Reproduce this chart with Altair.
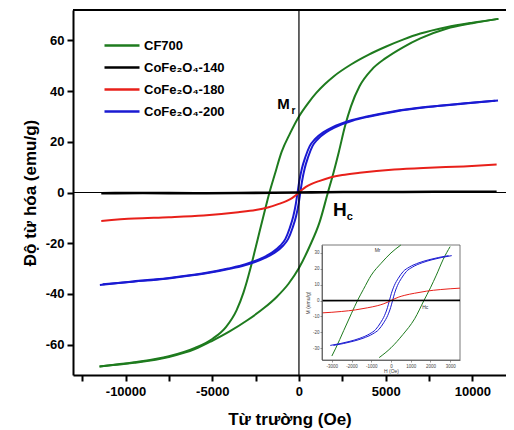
import altair as alt
import pandas as pd

# ---------------- data ----------------
SAMPLES = ["CF700", "CoFe₂O₄-140", "CoFe₂O₄-180", "CoFe₂O₄-200"]
COLORS = ["#1e7b1e", "#000000", "#e8201a", "#1a1ad2"]

# CF700 descending-field branch
CF_UP_H = [11500, 10000, 8500, 7000, 6000, 5000, 4000, 3000, 2000, 1500, 1000, 500, 0,
           -500, -1000, -1400, -1700, -2000, -2400, -2800, -3000, -3200, -3600, -4200,
           -5000, -6000, -7500, -9500, -11500]
CF_UP_M = [68.5, 67, 65.2, 62.7, 60.3, 57.5, 54.3, 50.5, 45.8, 42.8, 39.3, 35, 30,
           23.5, 16, 7, 0, -8, -19, -30, -35, -39.5, -46.5, -53,
           -57.8, -61.3, -64.6, -67, -68.6]
# CF700 ascending-field branch
CF_LO_H = [-11500, -9500, -7500, -6000, -5000, -4000, -3000, -2000, -1300, -600, 0, 600,
           1200, 1670, 2000, 2300, 2650, 3000, 3500, 4200, 5000, 6000, 7000, 8500, 10000, 11500]
CF_LO_M = [-68.6, -67.2, -64.9, -61.8, -58.5, -54.8, -50.5, -45.5, -41.3, -36, -29.8, -21.5,
           -11.5, 0, 8, 16, 26, 34, 42, 48.5, 53, 57.3, 60.8, 64.6, 66.8, 68.5]

# CoFe2O4-200 (narrow loop)
B_UP_H = [11320, 9420, 7420, 5420, 3920, 2920, 1920, 1420, 920, 620, 370, 170, 20, -80,
          -180, -330, -530, -780, -1080, -1580, -2080, -3080, -4080, -5580, -7580, -9580, -11480]
B_UP_M = [36.2, 35.1, 33.8, 32, 30, 28.3, 25.7, 23.8, 21, 18.3, 14, 9.5, 4.5, 0,
          -4.5, -9.5, -14, -18.3, -21, -23.8, -25.7, -28.3, -30, -32, -33.8, -35.1, -36.5]
B_LO_H = [-11320, -9420, -7420, -5420, -3920, -2920, -1920, -1420, -920, -620, -370, -170,
          -20, 80, 180, 330, 530, 780, 1080, 1580, 2080, 3080, 4080, 5580, 7580, 9580, 11480]
B_LO_M = [-36.2, -35.1, -33.8, -32, -30, -28.3, -25.7, -23.8, -21, -18.3, -14, -9.5,
          -4.5, 0, 4.5, 9.5, 14, 18.3, 21, 23.8, 25.7, 28.3, 30, 32, 33.8, 35.1, 36.3]

# CoFe2O4-180
R_H = [-11400, -9500, -7500, -5500, -3500, -2500, -1800, -1200, -700, -400, -200, 0,
       200, 400, 700, 1200, 1800, 2500, 3500, 5500, 7500, 9500, 11400]
R_M = [-11.2, -10.3, -9.8, -9.1, -7.8, -6.9, -5.9, -4.6, -3.3, -2.2, -1.2, 0,
       1.2, 2.2, 3.3, 4.6, 5.9, 6.9, 7.8, 9.1, 9.8, 10.3, 11]

# CoFe2O4-140
K_H = [-11400, -9000, -6000, -3500, -1500, 0, 1500, 3500, 6000, 9000, 11400]
K_M = [-0.3, -0.2, -0.3, -0.2, -0.1, 0, 0.1, 0.2, 0.2, 0.3, 0.3]

# annotations
ANN_TEXT = ["M", "r", "H", "c"]
ANN_H = [-890, -320, 2365, 2940]
ANN_M = [34.9, 32.2, -7, -9.5]
ANN_SIZE = [15, 10, 19, 11]

INSET_ANN_TEXT = ["Mr", "Hc"]
INSET_ANN_H = [-680, 1740]
INSET_ANN_M = [32, -4]

X_TICKS = [-12500, -10000, -7500, -5000, -2500, 0, 2500, 5000, 7500, 10000]
Y_TICKS = [-60, -40, -20, 0, 20, 40, 60]
INSET_X_TICKS = [-3000, -2000, -1000, 0, 1000, 2000, 3000]
INSET_Y_TICKS = [-30, -20, -10, 0, 10, 20, 30]
X_DOMAIN = [-13030, 11940]
Y_DOMAIN = [-72, 72]
INSET_X_DOMAIN = [-3500, 3500]
INSET_Y_DOMAIN = [-37.5, 35]


def series(sample, branch, hs, ms):
    return pd.DataFrame({"H": hs, "M": ms, "sample": sample, "key": sample + "|" + branch})


df = pd.concat([
    series(SAMPLES[0], "up", CF_UP_H, CF_UP_M),
    series(SAMPLES[0], "lo", CF_LO_H, CF_LO_M),
    series(SAMPLES[3], "up", B_UP_H, B_UP_M),
    series(SAMPLES[3], "lo", B_LO_H, B_LO_M),
    series(SAMPLES[2], "one", R_H, R_M),
    series(SAMPLES[1], "one", K_H, K_M),
], ignore_index=True)
df["w"] = [2.6 if s == SAMPLES[1] else 2.0 for s in df["sample"]]

ann = pd.DataFrame({"H": ANN_H, "M": ANN_M, "t": ANN_TEXT, "s": ANN_SIZE})
inset_ann = pd.DataFrame({"H": INSET_ANN_H, "M": INSET_ANN_M, "t": INSET_ANN_TEXT})
one = pd.DataFrame({"a": [0]})

W, HGT = 433, 365
FONT = "Liberation Sans"

x_main = alt.Scale(domain=X_DOMAIN, nice=False, zero=False)
y_main = alt.Scale(domain=Y_DOMAIN, nice=False, zero=False)

x_axis = alt.Axis(orient="bottom", values=X_TICKS,
                  labelExpr="datum.value % 5000 == 0 ? '' + datum.value : ''",
                  domainWidth=2, domainColor="black", tickWidth=2, tickColor="black",
                  tickSize=6, labelFontSize=13, labelFontWeight="bold", labelColor="black",
                  labelPadding=4, title="Từ trường (Oe)", titleFontSize=17,
                  titleFontWeight="bold", titleColor="black", titlePadding=13, grid=False)
y_axis = alt.Axis(orient="left", values=Y_TICKS, labelExpr="'' + datum.value",
                  domainWidth=2, domainColor="black", tickWidth=2, tickColor="black",
                  tickSize=6, labelFontSize=13, labelFontWeight="bold", labelColor="black",
                  labelPadding=3, title="Độ từ hóa (emu/g)", titleFontSize=17,
                  titleFontWeight="bold", titleColor="black", titlePadding=6, grid=False)

color_main = alt.Color("sample:N", scale=alt.Scale(domain=SAMPLES, range=COLORS),
                       legend=alt.Legend(orient="none", legendX=30, legendY=27, title=None,
                                         symbolType="stroke", symbolSize=1225,
                                         symbolStrokeWidth=2.5, labelFontSize=13,
                                         labelFontWeight="bold", labelColor="black",
                                         clipHeight=17, rowPadding=5, labelOffset=3,
                                         padding=0))

main_lines = alt.Chart(df).mark_line(interpolate="monotone").encode(
    x=alt.X("H:Q", scale=x_main, axis=x_axis),
    y=alt.Y("M:Q", scale=y_main, axis=y_axis),
    color=color_main,
    strokeWidth=alt.StrokeWidth("w:Q", scale=None, legend=None),
    detail="key:N",
)

rule_h = alt.Chart(one).mark_rule(color="black", strokeWidth=1.2).encode(
    y=alt.Y(datum=0, type="quantitative"))
rule_top = alt.Chart(one).mark_rule(color="black", strokeWidth=2).encode(
    y=alt.Y(datum=Y_DOMAIN[1], type="quantitative"))
rule_v = alt.Chart(one).mark_rule(color="black", strokeWidth=1.2).encode(
    x=alt.X(datum=0, type="quantitative"))

ann_text = alt.Chart(ann).mark_text(fontWeight="bold", color="black").encode(
    x="H:Q", y="M:Q", text="t:N", size=alt.Size("s:Q", scale=None))

main = alt.layer(main_lines, rule_h, rule_top, rule_v, ann_text)

# ---------------- inset ----------------
x_in = alt.Scale(domain=INSET_X_DOMAIN, range=[249, 387], nice=False, zero=False)
y_in = alt.Scale(domain=INSET_Y_DOMAIN, range=[350, 235], nice=False, zero=False)

x_in_axis = alt.Axis(orient="bottom", offset=-15, values=INSET_X_TICKS, labelExpr="'' + datum.value",
                     domainWidth=0.8, domainColor="#555", tickColor="#555", tickSize=2,
                     tickWidth=0.6, labelFontSize=4.5, labelColor="#444", labelPadding=1,
                     title="H (Oe)", titleFontSize=5, titleFontWeight="normal",
                     titleColor="#444", titlePadding=1, grid=False, zindex=2)
y_in_axis = alt.Axis(orient="left", offset=-249, values=INSET_Y_TICKS, labelExpr="'' + datum.value",
                     domainWidth=0.8, domainColor="#555", tickColor="#555", tickSize=2,
                     tickWidth=0.6, labelFontSize=4.5, labelColor="#444", labelPadding=1,
                     title="M (emu/g)", titleFontSize=5, titleFontWeight="normal",
                     titleColor="#444", titlePadding=2, grid=False, zindex=2)

inset_bg = alt.Chart(one).mark_rect(fill="white", stroke="#555", strokeWidth=0.8).encode(
    x=alt.X(datum=INSET_X_DOMAIN[0], type="quantitative", scale=x_in, axis=x_in_axis),
    x2=alt.X2(datum=INSET_X_DOMAIN[1]),
    y=alt.Y(datum=INSET_Y_DOMAIN[0], type="quantitative", scale=y_in, axis=y_in_axis),
    y2=alt.Y2(datum=INSET_Y_DOMAIN[1]),
)

inset_lines = alt.Chart(df).transform_filter(
    "datum.H >= -3500 && datum.H <= 3500 && datum.M >= -37.5 && datum.M <= 35"
).mark_line(strokeWidth=1, interpolate="monotone").encode(
    x="H:Q", y="M:Q",
    color=alt.Color("sample:N", scale=alt.Scale(domain=SAMPLES, range=COLORS), legend=None),
    detail="key:N",
)

inset_zero = alt.Chart(one).mark_rule(color="black", strokeWidth=1.3).encode(
    x=alt.X(datum=INSET_X_DOMAIN[0], type="quantitative"),
    x2=alt.X2(datum=INSET_X_DOMAIN[1]),
    y=alt.Y(datum=0, type="quantitative"))

inset_text = alt.Chart(inset_ann).mark_text(fontSize=5, color="#333").encode(
    x="H:Q", y="M:Q", text="t:N")

inset = alt.layer(inset_bg, inset_lines, inset_zero, inset_text)

chart = alt.layer(main, inset).resolve_scale(
    x="independent", y="independent", color="shared"
).properties(
    width=W, height=HGT,
    padding={"left": 65, "top": 2, "right": 0, "bottom": 55},
    autosize=alt.AutoSizeParams(type="none"),
).configure(font=FONT).configure_view(stroke=None)

chart.save("out.html", embed_options={"renderer": "svg", "actions": False})
